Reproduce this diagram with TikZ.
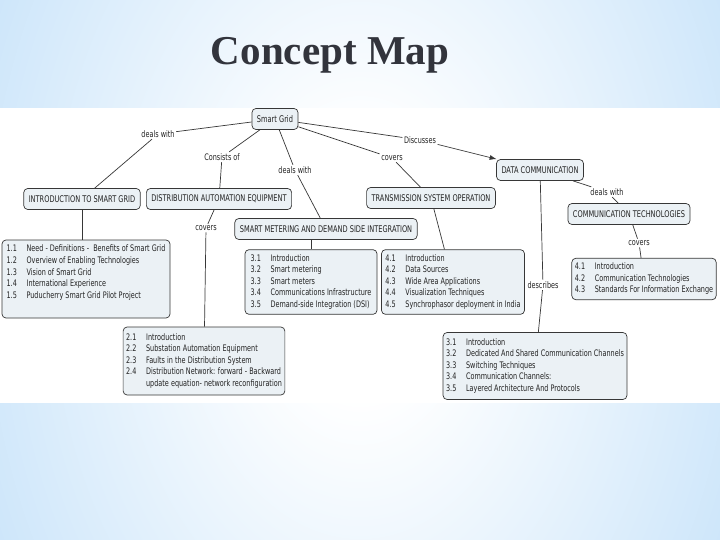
\documentclass[tikz,border=0pt]{standalone}
\usepackage{fontspec}
\setmainfont{Liberation Serif}
\newfontfamily\mapfont[FakeStretch=0.72]{DejaVu Sans}
\usetikzlibrary{arrows.meta}

\definecolor{bgblue}{RGB}{166,210,246}
\definecolor{boxfill}{RGB}{235,241,245}
\definecolor{boxline}{RGB}{55,55,55}
\definecolor{inkgray}{RGB}{35,35,35}
\definecolor{titlegray}{RGB}{50,52,60}

\pgfdeclareradialshading{pagefade}{\pgfpoint{0bp}{0bp}}{color(0bp)=(white); color(6bp)=(white); color(46bp)=(bgblue); color(50bp)=(bgblue)}

\begin{document}
\begin{tikzpicture}[x=1pt,y=-1pt,
  topic/.style={draw=boxline, fill=boxfill, rounded corners=4pt, line width=0.7pt,
    inner xsep=5pt, minimum height=21pt, text=inkgray,
    font={\mapfont\fontsize{9.2}{11.6}\selectfont}},
  listbox/.style={topic, inner xsep=3pt, font={\mapfont\fontsize{9}{11.6}\selectfont}},
  linklabel/.style={inner sep=1.5pt, text=inkgray,
    font={\mapfont\fontsize{9}{11.6}\selectfont}},
  link/.style={draw=boxline, line width=0.7pt}]
% Page and background
\useasboundingbox (0,0) rectangle (720,540);
\begin{scope}
\clip (0,0) rectangle (720,540);
\shade[shading=pagefade] (0,-260) rectangle (720,800);
\end{scope}
\fill[white] (0,108) rectangle (720,403);

% Title
\node[anchor=base, text=titlegray, font={\bfseries\fontsize{41}{41}\selectfont}] (title) at (330,65) {Concept Map};

% Concepts
\node[topic] (sg) at (275,119) {Smart Grid};
\node[topic] (intro) at (82,199) {INTRODUCTION TO SMART GRID};
\node[topic] (dae) at (219,199) {DISTRIBUTION AUTOMATION EQUIPMENT};
\node[topic] (smdi) at (326,229) {SMART METERING AND DEMAND SIDE INTEGRATION};
\node[topic] (tso) at (431,198) {TRANSMISSION SYSTEM OPERATION};
\node[topic] (dc) at (540,170) {DATA COMMUNICATION};
\node[topic] (ct) at (629,214) {COMMUNICATION TECHNOLOGIES};

% Topic lists
\node[listbox, minimum width=168pt, minimum height=78pt] (introlist) at (86,279) {\begin{tabular}{@{}p{20pt}@{}l@{}}
1.1 & Need - Definitions - \ Benefits of Smart Grid\\
1.2 & Overview of Enabling Technologies\\
1.3 & Vision of Smart Grid\\
1.4 & International Experience\\
1.5 & Puducherry Smart Grid Pilot Project\rule[-16pt]{0pt}{0pt}
\end{tabular}};
\node[listbox, minimum width=153pt, minimum height=68pt] (daelist) at (204,361) {\begin{tabular}{@{}p{20pt}@{}l@{}}
2.1 & Introduction\\
2.2 & Substation Automation Equipment\\
2.3 & Faults in the Distribution System\\
2.4 & Distribution Network: forward - Backward\\
 & update equation- network reconfiguration
\end{tabular}};
\node[listbox, minimum width=132pt, minimum height=60pt] (smdilist) at (311,282) {\begin{tabular}{@{}p{20pt}@{}l@{}}
3.1 & Introduction\\
3.2 & Smart metering\\
3.3 & Smart meters\\
3.4 & Communications Infrastructure\\
3.5 & Demand-side Integration (DSI)
\end{tabular}};
\node[listbox, minimum width=143pt, minimum height=60pt] (tsolist) at (453,282) {\begin{tabular}{@{}p{20pt}@{}l@{}}
4.1 & Introduction\\
4.2 & Data Sources\\
4.3 & Wide Area Applications\\
4.4 & Visualization Techniques\\
4.5 & Synchrophasor deployment in India
\end{tabular}};
\node[listbox, minimum width=143pt, minimum height=38pt] (ctlist) at (644,279) {\begin{tabular}{@{}p{20pt}@{}l@{}}
4.1 & Introduction\\
4.2 & Communication Technologies\\
4.3 & Standards For Information Exchange
\end{tabular}};
\node[listbox, minimum width=183pt, minimum height=67pt] (dclist) at (535,366) {\begin{tabular}{@{}p{20pt}@{}l@{}}
3.1 & Introduction\\
3.2 & Dedicated And Shared Communication Channels\\
3.3 & Switching Techniques\\
3.4 & Communication Channels:\\
3.5 & Layered Architecture And Protocols
\end{tabular}};

% Linking phrases
\node[linklabel] (dealsA) at (158,134) {deals with};
\node[linklabel] (consists) at (222,157) {Consists of};
\node[linklabel] (dealsB) at (295,170) {deals with};
\node[linklabel] (coversA) at (392,158) {covers};
\node[linklabel] (discusses) at (420,140) {Discusses};
\node[linklabel] (dealsC) at (607,192) {deals with};
\node[linklabel] (coversB) at (639,243) {covers};
\node[linklabel] (describes) at (543,285) {describes};
\node[linklabel] (coversC) at (206,228) {covers};

% Links
\draw[link] (sg) -- (dealsA) -- (intro);
\draw[link] (sg) -- (consists) -- (dae);
\draw[link] (sg) -- (dealsB) -- (smdi);
\draw[link] (sg) -- (coversA) -- (tso);
\draw[link] (sg) -- (discusses);
\draw[link, -{Latex[length=7pt,width=5pt]}] (discusses) -- (dc);
\draw[link] (dc) -- (dealsC) -- (ct);
\draw[link] (ct) -- (coversB) -- (ctlist);
\draw[link] (dc) -- (describes) -- (dclist);
\draw[link] (dae) -- (coversC) -- (daelist);
\draw[link] (intro) -- (intro |- introlist.north);
\draw[link] (smdilist |- smdi.south) -- (smdilist);
\draw[link] (tso) -- (tsolist);
\end{tikzpicture}
\end{document}
